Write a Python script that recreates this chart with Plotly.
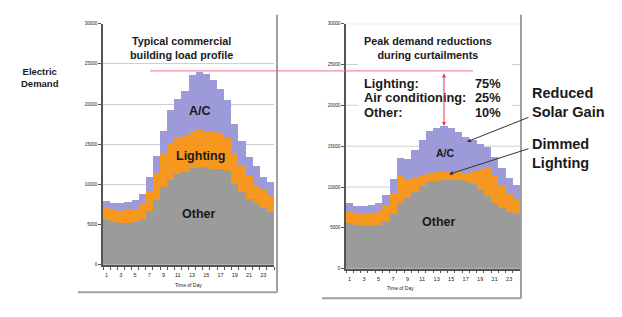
import plotly.graph_objects as go

W, H = 622, 317

hours = list(range(1, 25))
tick_hours = list(range(1, 24, 2))
y_ticks = [0, 5000, 10000, 15000, 20000, 25000, 30000]

# Left chart: typical commercial building load profile
other_L = [5570, 5370, 5200, 5200, 5370, 5690, 6790, 8130, 9720, 10650, 11340, 11590,
           12030, 12070, 12150, 11990, 11990, 11750, 10040, 9110, 8290, 7720, 7070, 6590]
light_L = [1630, 1530, 1590, 1670, 1630, 2030, 2400, 3330, 4180, 4550, 4510, 4430,
           4640, 4760, 4600, 4680, 4430, 4100, 3860, 3250, 2770, 2200, 2360, 2030]
ac_L = [800, 820, 890, 930, 1050, 1180, 1740, 2140, 2850, 4150, 4880, 5680,
        6980, 7170, 6990, 6330, 5530, 4750, 3660, 3090, 2440, 2360, 1500, 1680]

# Right chart: during curtailments
other_R = [5640, 5400, 5320, 5240, 5400, 5800, 6720, 8040, 8680, 9400, 10200, 10600,
           10840, 10920, 10920, 10920, 10840, 10440, 9720, 8920, 8040, 7520, 7000, 6720]
light_R = [1480, 1440, 1520, 1680, 1720, 2000, 2520, 3480, 2240, 1840, 1160, 1050,
           1160, 1120, 1120, 1000, 880, 1480, 2400, 3520, 3480, 2680, 2240, 1880]
ac_R = [920, 880, 880, 880, 1000, 1240, 1760, 2120, 2600, 3360, 4440, 5270,
        5240, 5480, 5280, 4800, 4400, 3880, 3200, 2480, 2200, 2200, 1860, 1700]

reduction_labels = ["Lighting:", "Air conditioning:", "Other:"]
reduction_pcts = ["75%", "25%", "10%"]

C_OTHER = "#9b9b9b"
C_LIGHT = "#f6981f"
C_AC = "#9c9ad8"
FONT = "Liberation Sans, Arial, sans-serif"
TXT = "#1a1a1a"


def px(x):
    return x / W


def py(y):
    return 1 - y / H


fig = go.Figure()
for xa, ya, series in [("x", "y", (other_L, light_L, ac_L)), ("x2", "y2", (other_R, light_R, ac_R))]:
    for vals, col, name in zip(series, (C_OTHER, C_LIGHT, C_AC), ("Other", "Lighting", "A/C")):
        fig.add_trace(go.Bar(x=hours, y=vals, marker=dict(color=col, line=dict(width=0)),
                             name=name, xaxis=xa, yaxis=ya, width=1.0, showlegend=False))

xcommon = dict(range=[0.5, 24.5], tickmode="array", tickvals=tick_hours, ticktext=[str(h) for h in tick_hours],
               ticks="", showline=True, linecolor="#555", linewidth=1.5, showgrid=False, zeroline=False,
               tickfont=dict(size=5.5, color="#222", family=FONT), ticklabelstandoff=4,
               minor=dict(tickvals=[h + 0.5 for h in range(0, 25)], ticks="outside", ticklen=3,
                          tickcolor="#555", tickwidth=1, showgrid=False))
ycommon = dict(range=[0, 30000], tickmode="array", tickvals=y_ticks, ticktext=[str(v) for v in y_ticks],
               ticks="outside", ticklen=3, tickcolor="#555", showline=True, linecolor="#555", linewidth=1.5,
               zeroline=False, tickfont=dict(size=4.5, color="#222", family=FONT))

fig.update_layout(
    width=W, height=H, margin=dict(l=0, r=0, t=0, b=0),
    paper_bgcolor="white", plot_bgcolor="white",
    barmode="stack", bargap=0,
    xaxis=dict(domain=[px(103), px(274)], anchor="y", **xcommon),
    yaxis=dict(domain=[py(267), py(22)], anchor="x", showgrid=True, gridcolor="#cfcfcf", gridwidth=1, **ycommon),
    xaxis2=dict(domain=[px(346), px(520)], anchor="y2", **xcommon),
    yaxis2=dict(domain=[py(271), py(22)], anchor="x2", showgrid=False, **ycommon),
)

shapes = []
# right chart gridlines (partly hidden by the text box)
for v in [5000, 10000, 15000, 30000]:
    shapes.append(dict(type="line", xref="x2 domain", yref="y2", x0=0, x1=1, y0=v, y1=v,
                       line=dict(color="#cfcfcf", width=1), layer="below"))
for v in [20000, 25000]:
    for a, b in [(0, 12 / 174), (166 / 174, 1)]:
        shapes.append(dict(type="line", xref="x2 domain", yref="y2", x0=a, x1=b, y0=v, y1=v,
                           line=dict(color="#cfcfcf", width=1), layer="below"))
# frame shadows
for (x0, y0, x1, y1) in [(277, 13, 277, 295), (78, 295, 277, 295), (521, 13, 521, 301), (322, 301, 521, 301)]:
    shapes.append(dict(type="line", xref="paper", yref="paper", x0=px(x0), y0=py(y0), x1=px(x1), y1=py(y1),
                       line=dict(color="#a0a0a0", width=2)))
# peak reference line
shapes.append(dict(type="line", xref="paper", yref="paper", x0=px(150), y0=py(70), x1=px(473), y1=py(70),
                   line=dict(color="#ea6f8e", width=1)))
fig.update_layout(shapes=shapes)

ann = []


def text(x, y, s, size, xanchor="center", color=TXT, bold=True):
    ann.append(dict(x=px(x), y=py(y), xref="paper", yref="paper", text=f"<b>{s}</b>" if bold else s,
                    showarrow=False, xanchor=xanchor, yanchor="middle", align=xanchor if xanchor != "center" else "center",
                    font=dict(size=size, color=color, family=FONT)))


text(40, 77, "Electric<br>Demand", 9.5)
text(181, 47, "Typical commercial<br>building load profile", 10.8)
text(428, 47, "Peak demand reductions<br>during curtailments", 10.8)
for i, (lab, pct) in enumerate(zip(reduction_labels, reduction_pcts)):
    text(362, 83 + i * 14.5, lab, 12.8, xanchor="left")
    text(473, 83 + i * 14.5, pct, 12.8, xanchor="left")
text(200, 111, "A/C", 12.5)
text(200, 156, "Lighting", 12.5)
text(198, 215, "Other", 12.5)
text(445, 153, "A/C", 10.5)
text(438, 224, "Other", 12.5)
text(530, 102, "Reduced<br>Solar Gain", 14.5, xanchor="left")
text(530, 154, "Dimmed<br>Lighting", 14.5, xanchor="left")
text(188, 288, "Time of Day", 5, bold=False, color="#222")
text(400, 291, "Time of Day", 5, bold=False, color="#222")

# arrows
ann.append(dict(x=px(444), y=py(126), xref="paper", yref="paper", ax=0, ay=-54, text="", showarrow=True,
                arrowhead=2, arrowside="end+start", arrowsize=0.8, arrowwidth=1, arrowcolor="#e8365a", standoff=0,
                startstandoff=0))
ann.append(dict(x=px(467), y=py(142), xref="paper", yref="paper", ax=63, ay=-25, text="", showarrow=True,
                arrowhead=2, arrowsize=0.8, arrowwidth=1, arrowcolor="#333"))
ann.append(dict(x=px(449), y=py(175), xref="paper", yref="paper", ax=81, ay=-26, text="", showarrow=True,
                arrowhead=2, arrowsize=0.8, arrowwidth=1, arrowcolor="#333"))
fig.update_layout(annotations=ann)

fig.write_html("out.html", config={"displayModeBar": False},
               post_script="document.body.style.margin='0';document.body.style.overflow='hidden';")
